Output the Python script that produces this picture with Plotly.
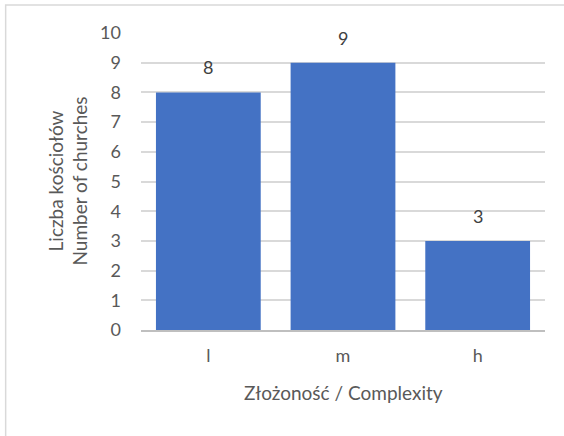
import plotly.graph_objects as go

categories = ["l", "m", "h"]
counts = [8, 9, 3]
y_ticks = list(range(0, 11))

FONT = "Lato"
TXT = "#595959"
FS = 18

fig = go.Figure()
fig.add_trace(go.Bar(
    x=categories, y=counts,
    marker=dict(color="#4472C4", line=dict(width=0)),
    hoverinfo="skip",
))

for c, v in zip(categories, counts):
    fig.add_annotation(x=c, y=v, text=str(v), showarrow=False,
                       yanchor="bottom", yshift=12,
                       font=dict(family=FONT, size=FS, color="#404040"))

fig.add_annotation(xref="paper", yref="paper", x=0.5, y=0, yshift=-62,
                   text="Złożoność / Complexity", showarrow=False,
                   yanchor="middle", font=dict(family=FONT, size=19, color=TXT))
fig.add_annotation(xref="paper", yref="paper", x=0, xshift=-74, y=0.5,
                   text="Liczba kościołów<br>Number of churches", showarrow=False,
                   textangle=-90, xanchor="center", yanchor="middle",
                   font=dict(family=FONT, size=19, color=TXT))

fig.add_shape(type="rect", xref="paper", yref="paper",
              x0=-0.335, x1=1.08, y0=-0.40, y1=1.094,
              line=dict(color="#d9d9d9", width=1.5), layer="below")

fig.update_layout(
    width=564, height=436,
    margin=dict(l=141, r=19, t=33, b=106),
    paper_bgcolor="white", plot_bgcolor="white",
    bargap=0.222, showlegend=False,
    font=dict(family=FONT, size=FS, color=TXT),
    xaxis=dict(showgrid=False, showline=True, linecolor="#bfbfbf", linewidth=1.5,
               ticks="", ticklabelstandoff=9, tickfont=dict(size=FS, color=TXT),
               fixedrange=True),
    yaxis=dict(range=[0, 10], tickvals=y_ticks, showgrid=True, gridcolor="#d9d9d9",
               gridwidth=1.5, zeroline=False, showline=False, ticks="",
               ticklabelstandoff=19, tickfont=dict(size=FS, color=TXT), fixedrange=True),
)

fig.write_html("out.html", config={"displayModeBar": False},
               post_script="document.body.style.margin='0';document.body.style.padding='0';")
